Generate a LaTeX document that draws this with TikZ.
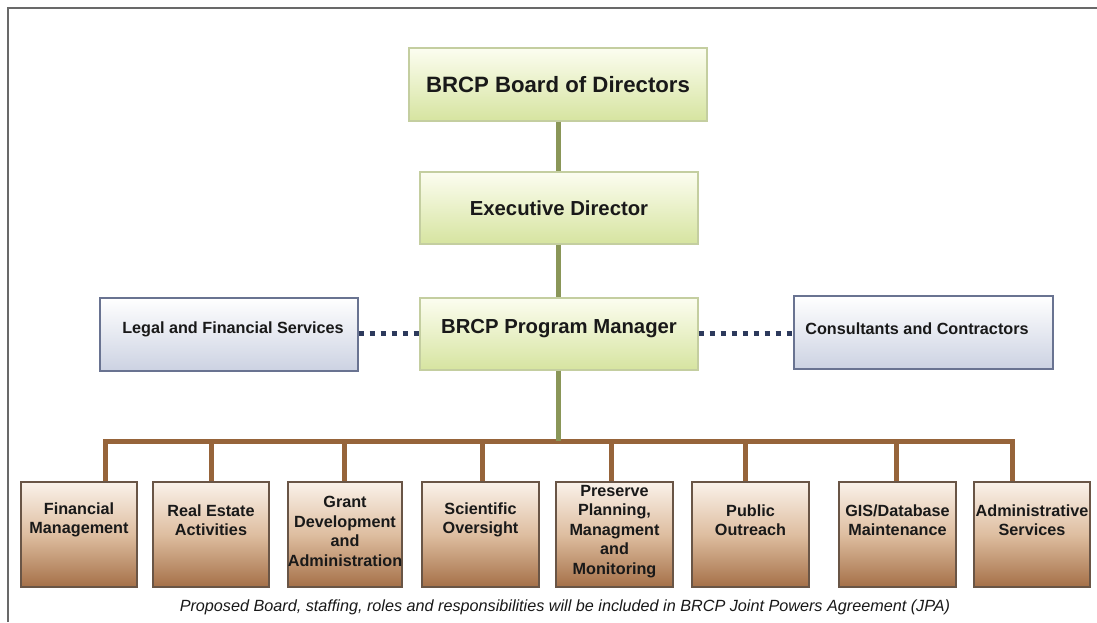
\documentclass[tikz,border=0pt]{standalone}
\usepackage{fontspec}
\setmainfont{Liberation Sans}
\usetikzlibrary{shadings}
\definecolor{gtop}{RGB}{252,253,240}
\definecolor{gbot}{RGB}{214,228,160}
\definecolor{gline}{RGB}{196,206,160}
\definecolor{btop}{RGB}{255,255,255}
\definecolor{bbot}{RGB}{204,210,226}
\definecolor{bline}{RGB}{105,115,145}
\definecolor{rtop}{RGB}{250,242,234}
\definecolor{rmid}{RGB}{222,190,160}
\definecolor{rbot}{RGB}{165,112,72}
\definecolor{rline}{RGB}{105,85,70}
\definecolor{olive}{RGB}{138,150,88}
\definecolor{brownline}{RGB}{150,100,58}
\definecolor{dotblue}{RGB}{45,58,92}
\definecolor{frame}{RGB}{105,105,105}
\definecolor{txt}{RGB}{25,25,25}
\tikzset{
  greenbox/.style={draw=gline, line width=1.2pt, top color=gtop, bottom color=gbot, inner sep=0pt},
  bluebox/.style={draw=bline, line width=1.2pt, top color=btop, bottom color=bbot, inner sep=0pt},
  brownbox/.style={draw=rline, line width=1.2pt, top color=rtop, bottom color=rbot, middle color=rmid, inner sep=0pt},
  bigtxt/.style={font=\bfseries\fontsize{20.3}{24}\selectfont, text=txt},
  midtxt/.style={font=\bfseries\fontsize{16.2}{19.6}\selectfont, text=txt, align=center},
  subtxt/.style={font=\bfseries\fontsize{16.2}{19.6}\selectfont, text=txt, align=center, inner sep=0pt},
  greenln/.style={draw=olive, line width=5pt},
  brownln/.style={draw=brownline, line width=5pt},
  dotln/.style={draw=dotblue, line width=5pt, dash pattern=on 5pt off 6pt},
}
\begin{document}
\begin{tikzpicture}[x=1pt,y=-1pt]
\useasboundingbox (0,0) rectangle (1097,622);
\fill[white] (0,0) rectangle (1097,622);
\draw[frame, line width=2pt] (8,622) -- (8,8) -- (1097,8);

% top chain
\node[greenbox, minimum width=298pt, minimum height=73pt] (board) at (558,84.5) {};
\node[bigtxt, font=\bfseries\fontsize{22.2}{26}\selectfont] (boardt) at (558,84.5) {BRCP Board of Directors};
\node[greenbox, minimum width=278pt, minimum height=72pt] (exec) at (559,208) {};
\node[bigtxt] (exect) at (559,208) {Executive Director};
\node[greenbox, minimum width=278pt, minimum height=72pt] (pm) at (559,334) {};
\node[bigtxt] (pmt) at (559,329) {BRCP Program Manager};

\node[bluebox, minimum width=258pt, minimum height=73pt] (legal) at (229,334.5) {};
\node[midtxt] (legalt) at (233,329) {Legal and Financial Services};
\node[bluebox, minimum width=259pt, minimum height=73pt] (cons) at (923.5,332.5) {};
\node[midtxt] (const) at (917,329) {Consultants and Contractors};

% connectors
\coordinate (busc) at (558,441);
\draw[greenln] (board.south -| busc) -- (exec.north -| busc);
\draw[greenln] (exec.south -| busc) -- (pm.north -| busc);
\draw[greenln] (pm.south -| busc) -- (busc);
\path[dotln] (legal.east |- 0,333) -- (pm.west |- 0,333);
\path[dotln] (pm.east |- 0,333) -- (cons.west |- 0,333);

% bottom boxes
\foreach \n/\l/\r/\dx/\ty/\t in {
  b1/21/137/105/520/{Financial\\Management},
  b2/153/269/211/520/{Real Estate\\Activities},
  b3/288/402/344/531.5/{Grant\\Development\\and\\Administration},
  b4/422/539/482/520/{Scientific\\Oversight},
  b5/556/673/611/531.5/{Preserve\\Planning,\\Managment\\and\\Monitoring},
  b6/692/809/745/520/{Public\\Outreach},
  b7/839/956/896/520/{GIS/Database\\Maintenance},
  b8/974/1090/1012/520/{Administrative\\Services}} {
  \node[brownbox, minimum width=\r pt-\l pt, minimum height=105pt] (\n) at ({(\l+\r)/2},534.5) {};
  \node[subtxt] (\n t) at ({(\l+\r)/2},\ty) {\t};
  \coordinate (\n top) at (\dx,441);
  \draw[brownln] (\n top) -- (\n.north -| \n top);
}
\draw[brownln, line cap=rect] (b1top) -- (b8top);
\draw[greenln] (558,430) -- (busc);

\node[font=\itshape\fontsize{16.2}{19}\selectfont, text=txt] (foot) at (565,607) {Proposed Board, staffing, roles and responsibilities will be included in BRCP Joint Powers Agreement (JPA)};
\end{tikzpicture}
\end{document}
